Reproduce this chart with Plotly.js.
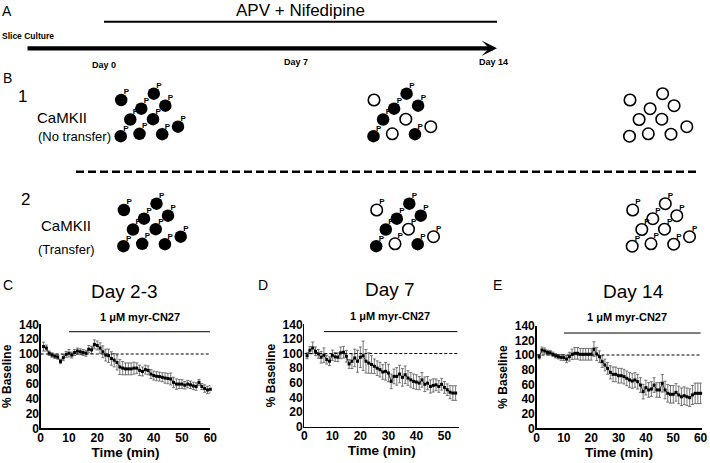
<!DOCTYPE html>
<html>
<head>
<meta charset="utf-8">
<script src="https://cdn.plot.ly/plotly-3.0.1.min.js"></script>
<style>html,body{margin:0;padding:0;background:#fff;}#chart{width:710px;height:463px;}</style>
</head>
<body>
<div id="chart"></div>
<script>
// ---------------- DATA ----------------
// Panel C (Day 2-3)
const timeC = [1,2,3,4,5,6,7,8,9,10,11,12,13,14,15,16,17,18,19,20,21,22,23,24,25,26,27,28,29,30,31,32,33,34,35,36,37,38,39,40,41,42,43,44,45,46,47,48,49,50,51,52,53,54,55,56,57,58,59,60];
const valC = [110,108,101,98.6,97,96,90,95,99.5,101,98.6,102,104,103,102,101,106.5,105.5,113,111.5,108,103,98.6,97.7,94,91.7,88.5,82.5,81,80,80,80,81,81,78,76.5,79,78,73,71,70,69.6,68.7,67.7,67,66.4,61.8,59.5,59.5,59.5,58,59.5,58.5,57,56.2,61.8,56.2,53.5,51.6,52.5];
const errC = [6,4,3,3,3,3,3,4,4,5,4,4,4,4,4,4,5,5,6,6,7,8,8,9,9,9,10,10,9,8,8,8,8,7,7,6,6,6,6,6,6,6,6,7,7,8,7,7,6,6,5,5,5,5,5,4,4,5,5,5];
// Panel D (Day 7)
const timeD = [1,2,3,4,5,6,7,8,9,10,11,12,13,14,15,16,17,18,19,20,21,22,23,24,25,26,27,28,29,30,31,32,33,34,35,36,37,38,39,40,41,42,43,44,45,46,47,48,49,50,51,52,53,54];
const valD = [97,104.6,107.8,103,99.5,95,97.7,91.7,89.5,97.7,95.4,95,101,101.8,96.3,85.8,89.5,94,89.5,95,97,89.5,87,85,82.6,80,78,74.8,75.7,73.4,62,68.8,68.8,72,67.4,71,66.5,64,62,61,59.6,64,58,59.6,55,56.4,57.3,55,58,53.7,50.5,47.2,46,46];
const errD = [4,5,8,6,6,8,10,6,6,7,6,6,8,8,8,6,10,12,15,14,20,16,14,12,10,10,10,10,12,12,10,10,12,12,12,12,10,10,10,10,9,10,10,9,9,9,8,8,8,8,8,9,10,10];
// Panel E (Day 14)
const timeE = [1,2,3,4,5,6,7,8,9,10,11,12,13,14,15,16,17,18,19,20,21,22,23,24,25,26,27,28,29,30,31,32,33,34,35,36,37,38,39,40,41,42,43,44,45,46,47,48,49,50,51,52,53,54,55,56,57,58,59,60];
const valE = [97.7,106.8,105.5,103.6,103,101,99,97.7,96.8,96.4,94.5,97.7,101,102.3,102.3,101,101,101,101,101,108,101.4,97.7,91,86.4,81.8,76.4,73.6,73.6,71.8,71.8,70.5,68.2,66,64.5,66,63.6,59,50,55.5,52.3,53.6,59,52.3,52.3,61.4,52.3,47.7,46.4,46.4,49,45.5,43,44.5,43,41.8,45.5,47.7,47.7,47.7];
const errE = [3,4,4,3,3,3,3,3,4,4,5,6,7,8,8,8,8,8,8,8,10,9,8,8,8,8,9,10,10,10,10,10,10,10,10,10,10,10,10,10,10,10,10,10,10,12,12,12,12,12,12,12,12,12,12,12,13,14,14,14];

const panelTitles = ['Day 2-3','Day 7','Day 14'];
const panelLetters = ['C','D','E'];
const drugLabel = '1 \u03bcM myr-CN27';
const drugStart = [10, 7, 10];
const drugEnd = [60, 54.6, 60];
const drugLevel = 130;
const baselineLevel = 100;
const xMax = [60, 55, 60];

// Schematic (panel B): CaMKII states, 10 molecules per group
const filledDay0 = [1,1,1,1,1,1,1,1,1,1];
const filledDay7 = [0,1,1,1,1,0,1,0,1,0];
const filledDay14 = [0,0,0,0,0,0,0,0,0,0];
const phosRow1 = [filledDay0, filledDay7, filledDay14];
const phosRow2 = [[1,1,1,1,1,1,1,1,1,1],[1,1,1,1,1,1,1,1,1,1],[1,1,1,1,1,1,1,1,1,1]];
const fillRows = [filledDay0, filledDay7, filledDay14];
const timelineLabels = ['Day 0','Day 7','Day 14'];

// ---------------- LAYOUT HELPERS ----------------
const W = 710, H = 463;
const FONT = 'Arial, Liberation Sans, sans-serif';
const NARROW = 'Liberation Sans Narrow, Arial Narrow, Liberation Sans, sans-serif';
// cluster arrangement (relative pixel offsets) and group origins
const patX = [0,32.6,20.1,44.1,9.1,31.8,-0.5,18.3,41,56.8];
const patY = [0,-6.3,8.7,5.7,19.5,19.2,36.2,33.8,34.2,26.7];
const originsX = [121.2, 374, 630];
const originsY = [100, 210];
const row2Shift = 2.7;

const traces = [];
const fx=[],fy=[],ox=[],oy=[],px=[],py=[];
for (let r=0;r<2;r++){
  for (let g=0; g<3; g++){
    const phos = r===0 ? phosRow1[g] : phosRow2[g];
    for (let i=0;i<10;i++){
      const cx = originsX[g] + patX[i] + (r===1?row2Shift:0);
      const cy = originsY[r] + patY[i];
      if (fillRows[g][i]) {fx.push(cx); fy.push(cy);} else {ox.push(cx); oy.push(cy);}
      if (phos[i]) {px.push(cx+5.2); py.push(cy-7.6);}
    }
  }
}
traces.push({x:fx,y:fy,xaxis:'x4',yaxis:'y4',mode:'markers',type:'scatter',hoverinfo:'skip',
  marker:{symbol:'circle',size:12.5,color:'#000',line:{width:0}}});
traces.push({x:ox,y:oy,xaxis:'x4',yaxis:'y4',mode:'markers',type:'scatter',hoverinfo:'skip',
  marker:{symbol:'circle',size:11.5,color:'#fff',line:{width:1.6,color:'#000'}}});
traces.push({x:px,y:py,xaxis:'x4',yaxis:'y4',mode:'text',type:'scatter',hoverinfo:'skip',
  text:px.map(()=> 'P'),textfont:{family:FONT,size:8,color:'#000',weight:'bold'}});

// ---------------- DATA TRACES ----------------
const series = [[timeC,valC,errC],[timeD,valD,errD],[timeE,valE,errE]];
const axNames = [['x','y'],['x2','y2'],['x3','y3']];
series.forEach((s,k)=>{
  traces.push({x:s[0],y:s[1],xaxis:axNames[k][0],yaxis:axNames[k][1],type:'scatter',mode:'lines+markers',
    cliponaxis:false,hoverinfo:'skip',
    line:{color:'#000',width:0.8},
    marker:{symbol:'square',size:3,color:'#000'},
    error_y:{type:'data',array:s[2],visible:true,color:'#555',thickness:0.8,width:1.5}});
});

// ---------------- AXES ----------------
const tickFont = {family:FONT,size:12,color:'#000',weight:'bold'};
const titleFont = {family:FONT,size:13.5,color:'#000',weight:'bold'};
function xa(domain, max){
  return {domain:domain, range:[0,max], dtick:10, tick0:0, showline:true, linecolor:'#000', linewidth:1.3,
    ticks:'', showgrid:false, zeroline:false, ticklabelstandoff:-2,
    tickfont:tickFont, title:{text:'Time (min)', font:titleFont, standoff:2}, fixedrange:true};
}
function ya(domain, anchor){
  return {domain:domain, range:[0,140], dtick:20, tick0:0, showline:true, linecolor:'#000', linewidth:1.3,
    ticks:'', showgrid:false, zeroline:false, ticklabelstandoff:-2,
    tickfont:tickFont, anchor:anchor, title:{text:'% Baseline', font:{family:NARROW,size:12,color:'#000',weight:'bold'}, standoff:4}, fixedrange:true};
}

const layout = {
  width:W, height:H, margin:{l:0,r:0,t:0,b:0}, showlegend:false,
  paper_bgcolor:'#fff', plot_bgcolor:'rgba(0,0,0,0)',
  xaxis: Object.assign(xa([40.7/W, 210.3/W], 60),{anchor:'y'}),
  yaxis: ya([(H-428.3)/H,(H-324.3)/H],'x'),
  xaxis2: Object.assign(xa([304.3/W, 459/W], 55.2),{anchor:'y2'}),
  yaxis2: ya([(H-426.7)/H,(H-324.3)/H],'x2'),
  xaxis3: Object.assign(xa([536.5/W, 701.7/W], 60.4),{anchor:'y3'}),
  yaxis3: ya([(H-428.3)/H,(H-325.7)/H],'x3'),
  xaxis4: {domain:[0,1], range:[0,W], visible:false, fixedrange:true, anchor:'y4'},
  yaxis4: {domain:[0,1], range:[H,0], visible:false, fixedrange:true, anchor:'x4'},
  shapes: [], annotations: []
};

// baseline and drug bars
['','2','3'].forEach((s,k)=>{
  layout.shapes.push({type:'line',xref:'x'+s,yref:'y'+s,x0:0,x1:xMax[k],y0:baselineLevel,y1:baselineLevel,
    line:{color:'#000',width:1,dash:'3px,2px'}});
  layout.shapes.push({type:'line',xref:'x'+s,yref:'y'+s,x0:drugStart[k],x1:drugEnd[k],y0:drugLevel,y1:drugLevel,
    line:{color:'#000',width:1}});
});

// schematic lines (pixel space overlay)
layout.shapes.push({type:'line',xref:'x4',yref:'y4',x0:104,x1:497,y0:21.7,y1:21.7,line:{color:'#000',width:2}});
layout.shapes.push({type:'line',xref:'x4',yref:'y4',x0:76,x1:699,y0:171.7,y1:171.7,line:{color:'#000',width:2.5,dash:'8px,4px'}});

function ann(text,x,y,size,bold,extra,fam){
  return Object.assign({text:text,x:x,y:y,xref:'x4',yref:'y4',showarrow:false,xanchor:'center',yanchor:'middle',
    font:{family:fam||FONT,size:size,color:'#000',weight:bold?'bold':'normal'}},extra||{});
}
const A = layout.annotations;
A.push({text:'',x:497,y:48.3,ax:26,ay:48.3,xref:'x4',yref:'y4',axref:'x4',ayref:'y4',showarrow:true,
  arrowhead:3,arrowsize:0.6,arrowwidth:4.3,arrowcolor:'#000'});
A.push(ann('A',7,11,14,false));
A.push(ann('APV + Nifedipine',300,10,17,false,null,NARROW));
A.push(ann('Slice Culture',27.5,36,8.5,true,null,NARROW));
const dayX = [104,295.5,493.5], dayY=[64.5,62,62];
timelineLabels.forEach((t,i)=>A.push(ann(t,dayX[i],dayY[i],9,true,null,NARROW)));
A.push(ann('B',7,78,14,false));
A.push(ann('1',22,96,17,false));
A.push(ann('2',25,199,17,false));
A.push(ann('CaMKII',62,117.5,15,false));
A.push(ann('(No transfer)',74.5,136,13,false));
A.push(ann('CaMKII',66,225,15,false));
A.push(ann('(Transfer)',66.5,249,13,false));
const letX=[8,263,497], titX=[124,390,633], titY=[291,289,291.5], drugX=[140,390,627], drugY=[316.5,316,316.7];
for (let k=0;k<3;k++){
  A.push(ann(panelLetters[k],letX[k],285,14,false));
  A.push(ann(panelTitles[k],titX[k],titY[k],19,false));
  A.push(ann(drugLabel,drugX[k],drugY[k],11,true));
}

Plotly.newPlot('chart', traces, layout, {staticPlot:true, displayModeBar:false});
</script>
</body>
</html>
